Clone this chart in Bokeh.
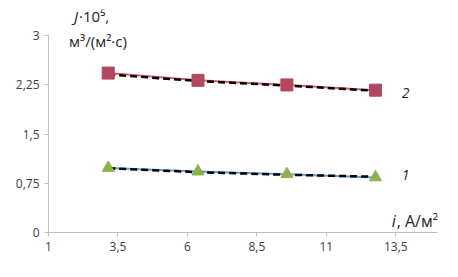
from bokeh.plotting import figure
from bokeh.models import Label, FixedTicker, Range1d
from bokeh.embed import file_html
from bokeh.resources import INLINE

# data
i_vals = [3.15, 6.38, 9.58, 12.77]
j2_meas = [2.43, 2.32, 2.25, 2.17]
j2_calc = [2.41, 2.31, 2.24, 2.16]
j1_meas = [0.985, 0.93, 0.89, 0.84]
j1_calc = [0.98, 0.92, 0.88, 0.85]

x_ticks = [1, 3.5, 6, 8.5, 11, 13.5]
x_tick_labels = ["1", "3,5", "6", "8,5", "11", "13,5"]
y_ticks = [0, 0.75, 1.5, 2.25, 3]
y_tick_labels = ["0", "0,75", "1,5", "2,25", "3"]

FONT = "Open Sans"
p = figure(width=450, height=269, output_backend="svg", toolbar_location=None,
           x_range=Range1d(1, 15), y_range=Range1d(0, 3.4),
           min_border_left=48, min_border_right=13, min_border_top=9, min_border_bottom=37)
p.outline_line_color = None
p.xgrid.visible = False
p.ygrid.visible = False
p.background_fill_color = "white"

for ax in (p.xaxis[0], p.yaxis[0]):
    ax.axis_line_color = "#BFBFBF"
    ax.major_tick_line_color = "#BFBFBF"
    ax.minor_tick_line_color = None
    ax.major_tick_in = 0
    ax.major_tick_out = 4
    ax.major_label_text_font = FONT
    ax.major_label_text_font_size = "12px"
    ax.major_label_text_color = "#404040"

p.yaxis[0].bounds = (0, 3)
p.xaxis[0].ticker = FixedTicker(ticks=x_ticks)
p.xaxis[0].major_label_overrides = {t: l for t, l in zip(x_ticks, x_tick_labels)}
p.yaxis[0].ticker = FixedTicker(ticks=y_ticks)
p.yaxis[0].major_label_overrides = {t: l for t, l in zip(y_ticks, y_tick_labels)}

# series 2
p.line(i_vals, j2_meas, line_color="#D9606A", line_width=2)
p.line(i_vals, j2_calc, line_color="black", line_width=2.5, line_dash="7 4")
p.scatter(i_vals, j2_meas, marker="square", size=12, fill_color="#B24760", line_color="#B24760")

# series 1
p.line(i_vals, j1_meas, line_color="#6A9BD0", line_width=2)
p.line(i_vals, j1_calc, line_color="black", line_width=2.5, line_dash="7 4")
p.scatter(i_vals, j1_meas, marker="triangle", size=12, fill_color="#8DB24A", line_color="#8DB24A")

lab_kw = dict(text_font=FONT, text_color="#262626", text_baseline="middle")
# y-axis title
p.add_layout(Label(x=1.92, y=3.30, text="J", text_align="left", text_font_size="15px",
                   text_font_style="italic", **lab_kw))
p.add_layout(Label(x=2.10, y=3.30, text="·10⁵,", text_align="left", text_font_size="15px", **lab_kw))
p.add_layout(Label(x=2.78, y=2.92, text="м³/(м²·с)", text_align="center", text_font_size="15px", **lab_kw))
# x-axis title
p.add_layout(Label(x=13.35, y=0.18, text="i", text_align="left", text_font_size="16px",
                   text_font_style="italic", **lab_kw))
p.add_layout(Label(x=13.53, y=0.18, text=", A/м²", text_align="left", text_font_size="16px", **lab_kw))
# curve numbers
p.add_layout(Label(x=13.85, y=2.12, text="2", text_align="center", text_font_size="14px",
                   text_font_style="italic", **lab_kw))
p.add_layout(Label(x=13.85, y=0.88, text="1", text_align="center", text_font_size="14px",
                   text_font_style="italic", **lab_kw))

open("out.html", "w").write(file_html(p, INLINE))
